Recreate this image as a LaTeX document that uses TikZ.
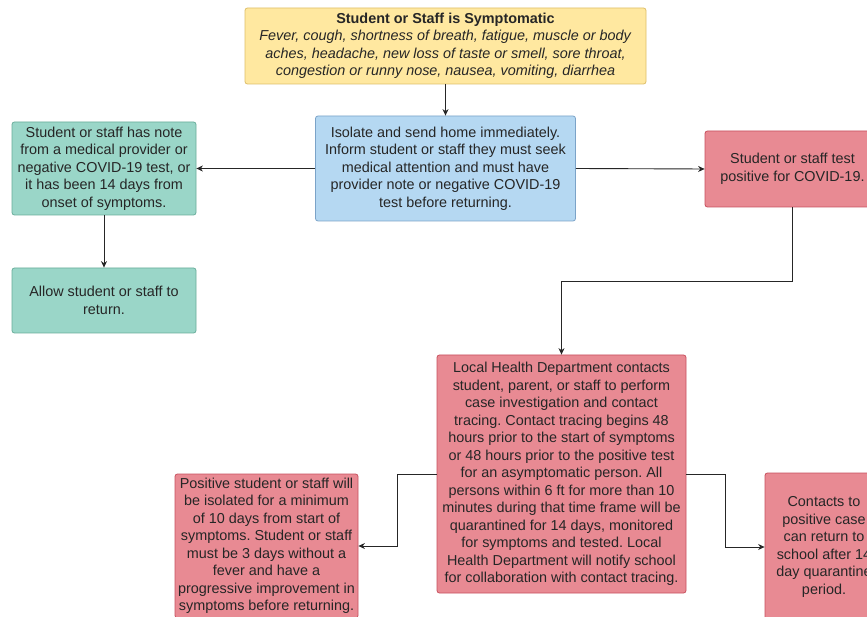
\documentclass[tikz,border=0pt]{standalone}
\usepackage{fontspec}
\setmainfont{Liberation Sans}
\usetikzlibrary{arrows.meta,calc}
\frenchspacing
\definecolor{txt}{HTML}{262626}
\definecolor{yfill}{HTML}{FFE8A0}
\definecolor{ydraw}{HTML}{DDBE68}
\definecolor{bfill}{HTML}{B5D8F2}
\definecolor{bdraw}{HTML}{7BA3C8}
\definecolor{tfill}{HTML}{9AD6C8}
\definecolor{tdraw}{HTML}{68AD9A}
\definecolor{rfill}{HTML}{E88A93}
\definecolor{rdraw}{HTML}{C8505E}
\tikzset{
  box/.style={draw, rounded corners=2.5pt, line width=0.8pt, align=center,
    inner sep=0pt, text=txt, font=\fontsize{14.4}{17.5}\selectfont},
  ybox/.style={box, fill=yfill, draw=ydraw},
  bbox/.style={box, fill=bfill, draw=bdraw},
  tbox/.style={box, fill=tfill, draw=tdraw},
  rbox/.style={box, fill=rfill, draw=rdraw},
  conn/.style={draw=txt, line width=0.9pt, -{Stealth[length=6.5pt,width=6pt]}}
}
\begin{document}
\begin{tikzpicture}[x=1pt,y=-1pt]
\useasboundingbox (0,0) rectangle (867,617);
\clip (0,0) rectangle (867,617);
\fill[white] (0,0) rectangle (867,617);

\node[ybox, minimum width=401pt, minimum height=76pt] (sym) at (445.5,46)
  {\textbf{Student or Staff is Symptomatic}\\
   \textit{Fever, cough, shortness of breath, fatigue, muscle or body}\\
   \textit{aches, headache, new loss of taste or smell, sore throat,}\\
   \textit{congestion or runny nose, nausea, vomiting, diarrhea}};

\node[bbox, minimum width=260pt, minimum height=105pt] (iso) at (445.5,168.5)
  {Isolate and send home immediately.\\
   Inform student or staff they must seek\\
   medical attention and must have\\
   provider note or negative COVID-19\\
   test before returning.};

\node[tbox, minimum width=184pt, minimum height=93pt] (note) at (104,168.5)
  {Student or staff has note\\
   from a medical provider or\\
   negative COVID-19 test, or\\
   it has been 14 days from\\
   onset of symptoms.};

\node[tbox, minimum width=184pt, minimum height=65pt] (allow) at (104,300.5)
  {Allow student or staff to\\ return.};

\node[rbox, minimum width=175pt, minimum height=76pt] (pos) at (792.5,169)
  {Student or staff test\\ positive for COVID-19.};

\node[rbox, minimum width=249pt, minimum height=238pt] (lhd) at (561.5,474)
  {Local Health Department contacts\\
   student, parent, or staff to perform\\
   case investigation and contact\\
   tracing. Contact tracing begins 48\\
   hours prior to the start of symptoms\\
   or 48 hours prior to the positive test\\
   for an asymptomatic person. All\\
   persons within 6 ft for more than 10\\
   minutes during that time frame will be\\
   quarantined for 14 days, monitored\\
   for symptoms and tested. Local\\
   Health Department will notify school\\
   for collaboration with contact tracing.};

\node[rbox, minimum width=183pt, minimum height=144pt] (iso10) at (266.5,546)
  {Positive student or staff will\\
   be isolated for a minimum\\
   of 10 days from start of\\
   symptoms. Student or staff\\
   must be 3 days without a\\
   fever and have a\\
   progressive improvement in\\
   symptoms before returning.};

\node[rbox, minimum width=118pt, minimum height=148pt] (cont) at (824,547)
  {Contacts to\\
   positive case\\
   can return to\\
   school after 14\\
   day quarantine\\
   period.};

\coordinate (k1) at (561.5,281);
\draw[conn] (sym.south) -- (iso.north);
\draw[conn] (iso.west) -- (note.east);
\draw[conn] (note.south) -- (allow.north);
\draw[conn] (iso.east) -- (pos.west);
\draw[conn] (pos.south) |- (k1) -- (lhd.north);
\draw[conn] (lhd.west) -| ($(lhd.west)!.5!(iso10.east)$) |- (iso10.east);
\draw[conn] (lhd.east) -| ($(lhd.east)!.5!(cont.west)$) |- (cont.west);
\end{tikzpicture}
\end{document}
